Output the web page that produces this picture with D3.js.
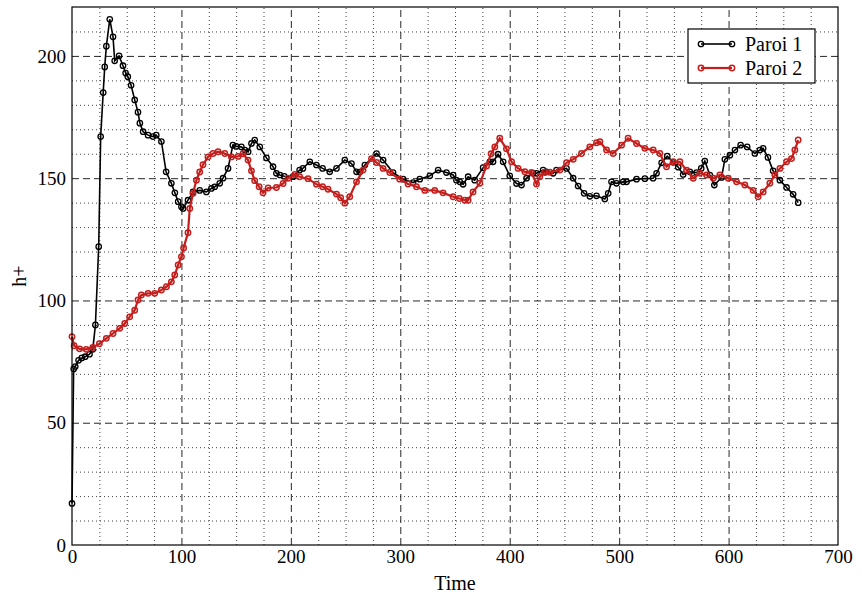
<!DOCTYPE html>
<html lang="fr">
<head>
<meta charset="UTF-8"/>
<title>h+ vs Time</title>
<script src="https://d3js.org/d3.v7.min.js"></script>
<style>
  body { margin: 0; background: #fff; }
  svg { display: block; font-family: 'Liberation Serif', 'Times New Roman', serif; }
  .tick text { fill: #000; }
  .grid path { stroke-width: 0; }
  .grid.minor .tick line { stroke: #000; stroke-width: 1; stroke-dasharray: 1 3; opacity: 0.75; }
  .grid.major .tick line { stroke: #000; stroke-width: 1; stroke-dasharray: 7 4; opacity: 0.85; }
  .label { font-size: 20px; fill: #000; }
  .legend text { font-size: 20px; fill: #000; }
</style>
</head>
<body>
<svg width="862" height="597"></svg>
<script>
// Paroi 1 (time, h+)
const time1 = [0,1.5,3,6,9,12,16,19,21.4,24.4,26.2,28.5,29.9,31.4,34.5,37.5,39,43,46.6,49,51,54,57.3,60.3,62,65,69.5,74,77,81.7,86,90.8,94,97,100,101.5,106,110.6,116.7,122.8,127.4,130.4,135,138,142.6,147,150,154.8,158,161,164,167,171.6,177.7,183.7,186.8,190,194,202,208,211,217.3,223.4,229,235.5,241.7,249.3,255.4,260,263,267.6,278.3,284.3,293.4,302.6,311.7,317.8,327,334.6,342.2,348.3,351.3,354.4,357.4,362,368,375.7,381.8,384.8,389.4,394,400,406.2,410.8,415.4,421.4,424.5,430.5,433.6,439.7,442.8,451.9,458,462.5,468,473.2,479.3,486.9,490,493,497.6,503.7,506.8,515.9,523.5,531,534.2,538.8,544,549.4,554,558.5,564.6,570.7,575,578.3,582.9,587,593.6,596.6,601.2,605.8,611,617,624,628.6,631.6,636,640.7,646.9,653,659,663.6];
const paroi1 = [17,72,73,75.5,76.5,77,78,80,90,122,167,185,195.5,204,215,207.8,198,200,196,193,191.5,188,182,177,172.5,169,167.6,167,167.6,165,152.6,147.9,144,140.4,138.3,137.6,141,144.4,145,144.4,145.8,146.5,147.9,150,154,163.5,163,162.8,161.5,160.8,164.2,165.6,162.8,158.3,154.7,152,151.3,150.8,150.6,153.3,154,156.7,155.4,154,152.6,154,157.4,156,152.6,152.5,155.4,160.1,157.4,152.3,149.6,148.2,149.6,151,153.3,152.3,151.3,149.2,148.5,147.5,150.6,149.2,154.3,156.7,156.7,159.8,156.7,151,147.8,147.2,150,152,152,153.3,152.6,152,153.3,154,150,146.8,143.8,142.6,142.8,141.5,143.8,148.5,147.9,148.5,148.5,149.6,149.8,150,152,156.3,159,156.5,154.5,151.5,152.6,152.3,154,157,151.3,147.2,150.3,157.7,159.4,161.5,163.5,162.8,160.1,161.5,162.2,158.5,153,149.2,146.2,143.4,140];

// Paroi 2 (time, h+)
const time2 = [0,2,7,13,19,25,31.4,37.5,43.6,48.2,52.7,57.3,60.3,63.4,69.5,75.6,81.7,86.3,90.8,93.9,97,100,102,106,107.6,110.6,113.7,116.7,119.7,124.3,128.9,133.5,139.6,145.7,151.8,156.3,160.9,164,167,171,174.6,179.2,186.8,192.9,197.4,203.6,208,215.7,223.4,229,234,241.7,245.5,249.3,253.8,260,266,273.7,278.3,284.3,290.4,299.5,307.1,314.8,322.4,331.5,339.1,348.3,354,359,362,366.5,372.7,378.8,383,386.4,390.9,397,401.7,407.7,413.8,419.9,424.5,427.5,432,436.7,445.8,451.9,458,465.6,473.2,479.3,482.4,488.5,494.5,502.2,508.2,515.9,523.5,531.1,537.2,543.3,549.4,555.5,561.6,567.7,573.8,579.9,586,592,599.7,607.3,614.9,622.5,627,631.6,637.7,642.3,646.9,653,657.5,660.6,663.6];
const paroi2 = [85.2,81.5,80.2,80,80.8,82.3,84.5,86.5,88.6,90.6,93.3,96,100.2,102.2,102.9,102.9,104.3,105.6,107.6,110.4,114.5,117.9,121.5,127.7,137.6,143.8,149.2,152.5,155.5,158.7,160.1,160.8,160.1,158.7,158.9,160,157.4,153,149,146.5,144,146,146.2,147.8,150,151.5,150.6,149.8,147.5,146.5,145.5,143.5,142,139.8,142.4,148.5,153.3,158,156.4,154,152.3,149.6,147.6,146.5,145,145,144,142.4,141.7,141,141,144.4,147.9,155,160,162.8,166.3,162,156.7,154,152.6,152.3,147.6,150.6,152.3,152.4,153.3,156.3,157.7,160.1,162.8,164.5,164.9,161.5,160.1,163.5,166.3,164.2,162.2,161.5,160.1,154.7,156.7,156.7,153.3,150,152,151.3,150,151.3,150,148.5,147.2,145,142.4,144.4,147.9,151.3,154,156.7,158,161.5,165.6];

const seriesNames = ['Paroi 1', 'Paroi 2'];
const seriesColors = ['#000000', '#c41f1d'];
const xTicks = [0, 100, 200, 300, 400, 500, 600, 700];
const yTicks = [0, 50, 100, 150, 200];

const svg = d3.select('svg');
const margin = { left: 72, right: 24, top: 7, bottom: 52 };
const width = 862 - margin.left - margin.right;
const height = 597 - margin.top - margin.bottom;
const serif = "'Liberation Serif', 'Times New Roman', serif";

const chart = svg.append('g')
  .attr('transform', `translate(${margin.left}, ${margin.top})`);

const xScale = d3.scaleLinear().domain([0, 700]).range([0, width]);
const yScale = d3.scaleLinear().domain([0, 220]).range([height, 0]);

// minor grid (dotted), skipping the major positions
chart.append('g')
  .attr('class', 'grid minor')
  .attr('transform', `translate(0, ${height})`)
  .call(d3.axisBottom(xScale).tickValues(d3.range(25, 700, 25).filter(v => v % 100)).tickSize(-height).tickFormat(''));
chart.append('g')
  .attr('class', 'grid minor')
  .call(d3.axisLeft(yScale).tickValues(d3.range(10, 220, 10).filter(v => v % 50)).tickSize(-width).tickFormat(''));

// major grid (dashed)
chart.append('g')
  .attr('class', 'grid major')
  .attr('transform', `translate(0, ${height})`)
  .call(d3.axisBottom(xScale).tickValues(xTicks.slice(1, -1)).tickSize(-height).tickFormat(''));
chart.append('g')
  .attr('class', 'grid major')
  .call(d3.axisLeft(yScale).tickValues(yTicks.slice(1)).tickSize(-width).tickFormat(''));

// axes with labels
const xAxis = chart.append('g')
  .attr('transform', `translate(0, ${height})`)
  .call(d3.axisBottom(xScale).tickValues(xTicks).tickSize(0).tickPadding(5).tickFormat(d3.format('d')))
  .attr('font-family', serif)
  .attr('font-size', 19);
xAxis.select('.domain').remove();

const yAxis = chart.append('g')
  .call(d3.axisLeft(yScale).tickValues(yTicks).tickSize(0).tickPadding(6).tickFormat(d3.format('d')))
  .attr('font-family', serif)
  .attr('font-size', 19);
yAxis.select('.domain').remove();

// series
const data = [
  time1.map((t, i) => [t, paroi1[i]]),
  time2.map((t, i) => [t, paroi2[i]])
];

const line = d3.line()
  .x(d => xScale(d[0]))
  .y(d => yScale(d[1]));

data.forEach((pts, k) => {
  chart.append('path')
    .datum(pts)
    .attr('fill', 'none')
    .attr('stroke', seriesColors[k])
    .attr('stroke-width', k ? 2.2 : 1.6)
    .attr('d', line);

  chart.append('g')
    .selectAll('circle')
    .data(pts)
    .enter()
    .append('circle')
    .attr('cx', d => xScale(d[0]))
    .attr('cy', d => yScale(d[1]))
    .attr('r', 2.7)
    .attr('fill', 'none')
    .attr('stroke', seriesColors[k])
    .attr('stroke-width', k ? 1.5 : 1.3);
});

// plot box
chart.append('rect')
  .attr('width', width)
  .attr('height', height)
  .attr('fill', 'none')
  .attr('stroke', '#000')
  .attr('stroke-width', 1.2);

// axis titles
svg.append('text')
  .attr('class', 'label')
  .attr('x', margin.left + width / 2)
  .attr('y', 590)
  .attr('text-anchor', 'middle')
  .text('Time');

svg.append('text')
  .attr('class', 'label')
  .attr('transform', `translate(26, ${margin.top + height / 2}) rotate(-90)`)
  .attr('text-anchor', 'middle')
  .text('h+');

// legend
const legend = svg.append('g').attr('class', 'legend');
legend.append('rect')
  .attr('x', 688).attr('y', 29)
  .attr('width', 127).attr('height', 54)
  .attr('fill', '#fff')
  .attr('stroke', '#000')
  .attr('stroke-width', 1.2);

seriesNames.forEach((name, k) => {
  const y = 44 + k * 24;
  legend.append('line')
    .attr('x1', 701).attr('x2', 732)
    .attr('y1', y).attr('y2', y)
    .attr('stroke', seriesColors[k])
    .attr('stroke-width', k ? 2.2 : 1.6);
  [701, 732].forEach(x => {
    legend.append('circle')
      .attr('cx', x).attr('cy', y).attr('r', 2.7)
      .attr('fill', 'none')
      .attr('stroke', seriesColors[k])
      .attr('stroke-width', k ? 1.5 : 1.3);
  });
  legend.append('text')
    .attr('x', 745).attr('y', y + 7)
    .text(name);
});
</script>
</body>
</html>
